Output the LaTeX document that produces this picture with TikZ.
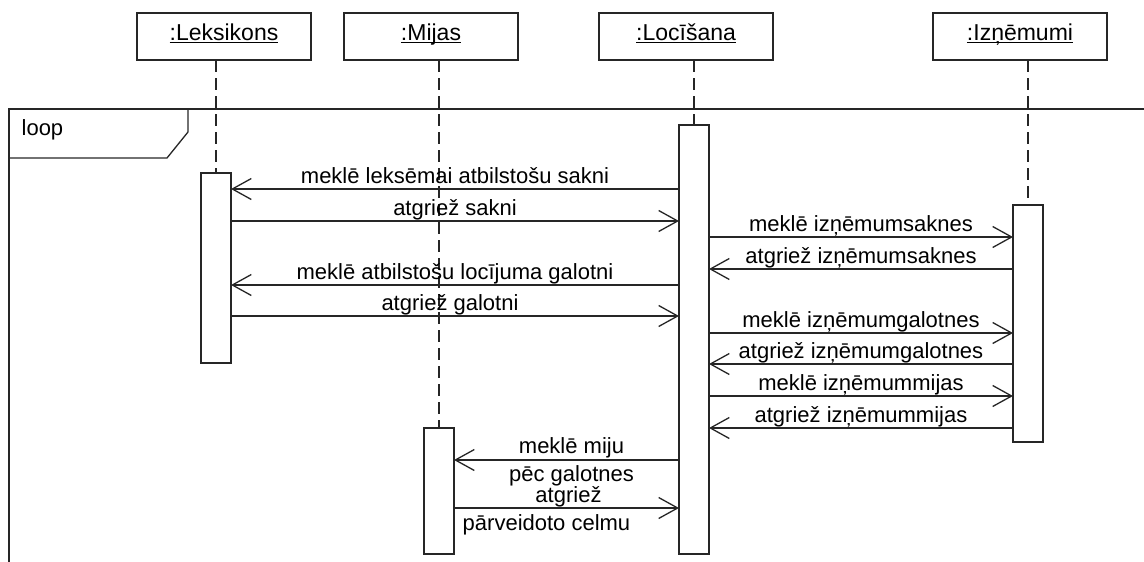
\documentclass[tikz,border=0pt]{standalone}
\usepackage{fontspec}
\setmainfont{Liberation Sans}
\usetikzlibrary{arrows.meta}
\newsavebox\objbox
\newcommand{\objname}[1]{\sbox\objbox{#1}\rlap{\rule[-3pt]{\wd\objbox}{1.1pt}}\usebox\objbox}

\begin{document}
\begin{tikzpicture}[
    x=1pt, y=-1pt,
    line width=1.3pt,
    headbox/.style={draw=black!85, minimum width=174pt, minimum height=47pt, inner sep=0pt, outer sep=0pt, text height=15pt, text depth=8pt, font=\fontsize{23}{27}\selectfont},
    actbar/.style={draw=black!85, fill=white, minimum width=30pt, inner sep=0pt, outer sep=0pt, anchor=north},
    lifeline/.style={draw=black!85, dash pattern=on 12pt off 6pt},
    msg/.style={draw=black!85, -{Straight Barb[length=19pt, width=21pt]}},
    msglbl/.style={font=\fontsize{22}{28}\selectfont, inner sep=0pt, anchor=base, yshift=6pt},
    twolbl/.style={font=\fontsize{22}{28}\selectfont, inner sep=0pt, align=center, anchor=center, yshift=-2.3pt},
    framebox/.style={draw=black!85},
]
\useasboundingbox (0,0) rectangle (1144,562);
\clip (0,0) rectangle (1144,562);
% loop frame
\draw[framebox] (9,109) rectangle (1170,590);
\draw[framebox] (9,158) -- (167,158) -- (188,132) -- (188,109);
\node[font=\fontsize{22}{28}\selectfont, inner sep=0pt, anchor=base west] (looplbl) at (21,135) {loop};
% objects
\node[headbox] (lekhead) at (224,36.5) {\objname{:Leksikons}};
\node[headbox] (mijhead) at (431,36.5) {\objname{:Mijas}};
\node[headbox] (lochead) at (686,36.5) {\objname{:Locīšana}};
\node[headbox] (iznhead) at (1020,36.5) {\objname{:Izņēmumi}};
% activations
\node[actbar, minimum height=190pt] (lekbar) at (216,173) {};
\node[actbar, minimum height=126pt] (mijbar) at (439,428) {};
\node[actbar, minimum height=429pt] (locbar) at (694,125) {};
\node[actbar, minimum height=237pt] (iznbar) at (1028,205) {};
% lifelines
\draw[lifeline] (lekbar.north |- lekhead.south) -- (lekbar.north);
\draw[lifeline] (mijbar.north |- mijhead.south) -- (mijbar.north);
\draw[lifeline] (locbar.north |- lochead.south) -- (locbar.north);
\draw[lifeline] (iznbar.north |- iznhead.south) -- (iznbar.north);
% messages to Leksikons
\draw[msg] (locbar.west |- 0,189) -- (lekbar.east |- 0,189) node[msglbl, midway] {meklē leksēmai atbilstošu sakni};
\draw[msg] (lekbar.east |- 0,221) -- (locbar.west |- 0,221) node[msglbl, midway] {atgriež sakni};
\draw[msg] (locbar.west |- 0,285) -- (lekbar.east |- 0,285) node[msglbl, midway] {meklē atbilstošu locījuma galotni};
\draw[msg] (lekbar.east |- 0,316) -- (locbar.west |- 0,316) node[msglbl, midway, xshift=-5pt] {atgriež galotni};
% messages to Izņēmumi
\draw[msg] (locbar.east |- 0,237) -- (iznbar.west |- 0,237) node[msglbl, midway] {meklē izņēmumsaknes};
\draw[msg] (iznbar.west |- 0,269) -- (locbar.east |- 0,269) node[msglbl, midway] {atgriež izņēmumsaknes};
\draw[msg] (locbar.east |- 0,333) -- (iznbar.west |- 0,333) node[msglbl, midway] {meklē izņēmumgalotnes};
\draw[msg] (iznbar.west |- 0,364) -- (locbar.east |- 0,364) node[msglbl, midway] {atgriež izņēmumgalotnes};
\draw[msg] (locbar.east |- 0,396) -- (iznbar.west |- 0,396) node[msglbl, midway] {meklē izņēmummijas};
\draw[msg] (iznbar.west |- 0,428) -- (locbar.east |- 0,428) node[msglbl, midway] {atgriež izņēmummijas};
% messages to Mijas
\draw[msg] (locbar.west |- 0,460) -- (mijbar.east |- 0,460) node[twolbl, midway, xshift=5pt] {meklē miju\\pēc galotnes};
\draw[msg] (mijbar.east |- 0,508) -- (locbar.west |- 0,508) node[twolbl, midway, xshift=-20pt] {\hspace*{44pt}atgriež\\pārveidoto celmu};
\end{tikzpicture}
\end{document}
